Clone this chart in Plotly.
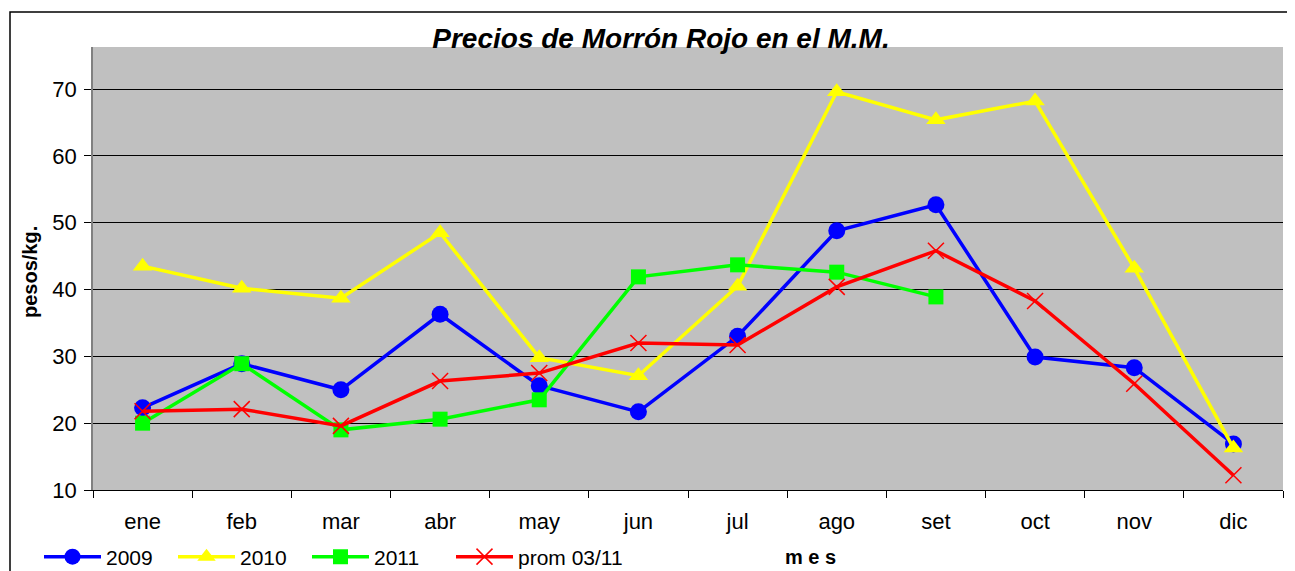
import plotly.graph_objects as go

months = ["ene", "feb", "mar", "abr", "may", "jun", "jul", "ago", "set", "oct", "nov", "dic"]
y2009 = [22.3, 28.9, 25.0, 36.3, 25.6, 21.7, 33.0, 48.8, 52.7, 29.9, 28.3, 16.9]
y2010 = [43.5, 40.2, 38.7, 48.5, 29.8, 27.1, 40.5, 69.6, 65.4, 68.2, 43.2, 16.3]
y2011 = [20.0, 28.9, 19.0, 20.6, 23.5, 41.9, 43.7, 42.6, 38.9, None, None, None]
prom = [21.8, 22.1, 19.6, 26.3, 27.5, 32.0, 31.7, 40.4, 45.8, 38.3, 25.9, 12.2]

FONT = "Liberation Sans, Arial, sans-serif"
OFF = 8  # page body margin
W, H = 1295 - OFF, 571 - OFF
L, T = 93 - OFF, 47 - OFF
R = W - (1283 - OFF)
B = H - (490 - OFF)
PW, PH = W - L - R, H - T - B


def px_x(x):  # viewport pixel -> paper fraction
    return (x - OFF - L) / PW


def px_y(y):
    return (H - B - (y - OFF)) / PH


fig = go.Figure()
fig.add_trace(go.Scatter(x=months, y=y2009, name="2009", mode="lines+markers",
                         line=dict(color="#0000FF", width=3.5),
                         marker=dict(symbol="circle", size=17, color="#0000FF")))
fig.add_trace(go.Scatter(x=months, y=y2010, name="2010", mode="lines+markers",
                         line=dict(color="#FFFF00", width=3.5),
                         marker=dict(symbol="triangle-up", size=17, color="#FFFF00")))
fig.add_trace(go.Scatter(x=months, y=y2011, name="2011", mode="lines+markers",
                         line=dict(color="#00FF00", width=3.5),
                         marker=dict(symbol="square", size=15, color="#00FF00")))
fig.add_trace(go.Scatter(x=months, y=prom, name="prom 03/11", mode="lines+markers",
                         legend="legend2",
                         line=dict(color="#FF0000", width=3.5),
                         marker=dict(symbol="x-thin", size=16, color="#FF0000",
                                     line=dict(color="#FF0000", width=1.5))))

legend_common = dict(orientation="h", xanchor="left", y=px_y(557), yanchor="middle",
                     font=dict(family=FONT, size=21), bgcolor="rgba(0,0,0,0)",
                     itemwidth=57, tracegroupgap=0)

fig.update_layout(
    width=W, height=H,
    margin=dict(l=L, r=R, t=T, b=B, autoexpand=False),
    paper_bgcolor="white",
    plot_bgcolor="#C0C0C0",
    font=dict(family=FONT, size=21, color="black"),
    title=dict(text="<b><i>Precios de Morrón Rojo en el M.M.</i></b>",
               x=(661 - OFF) / W, xanchor="center", y=1 - (38 - OFF) / H, yanchor="middle",
               font=dict(family=FONT, size=28, color="black")),
    showlegend=True,
    legend=dict(x=px_x(39), entrywidth=62, entrywidthmode="pixels", **legend_common),
    legend2=dict(x=px_x(43 + 3 * 136), **legend_common),
    xaxis=dict(
        type="category", categoryorder="array", categoryarray=months,
        range=[-0.5, 11.5], showgrid=False, zeroline=False, automargin=False,
        ticks="outside", tickson="boundaries", ticklen=7, tickcolor="#000000",
        showline=True, linecolor="#000000", linewidth=1,
        ticklabelstandoff=12,
        tickfont=dict(family=FONT, size=22, color="black"),
    ),
    yaxis=dict(
        range=[10, 76.3], tickvals=[10, 20, 30, 40, 50, 60, 70],
        showgrid=True, gridcolor="#000000", gridwidth=1, zeroline=False, automargin=False,
        ticks="outside", ticklen=7, tickcolor="#000000",
        showline=True, linecolor="#808080", linewidth=1.5,
        ticklabelstandoff=3,
        tickfont=dict(family=FONT, size=22, color="black"),
    ),
)

fig.add_annotation(text="<b>pesos/kg.</b>", xref="paper", yref="paper", x=px_x(30), y=px_y(272),
                   showarrow=False, textangle=-90, font=dict(family=FONT, size=20, color="black"),
                   xanchor="center", yanchor="middle")
fig.add_annotation(text="<b>m e s</b>", xref="paper", yref="paper", x=px_x(810), y=px_y(557),
                   showarrow=False, font=dict(family=FONT, size=20, color="black"),
                   xanchor="center", yanchor="middle")

# outer chart border
fig.add_shape(type="rect", xref="paper", yref="paper",
              x0=px_x(10), x1=px_x(1290), y0=px_y(600), y1=px_y(12),
              line=dict(color="#000000", width=1.5), fillcolor="rgba(0,0,0,0)", layer="below")

fig.write_html("out.html")
